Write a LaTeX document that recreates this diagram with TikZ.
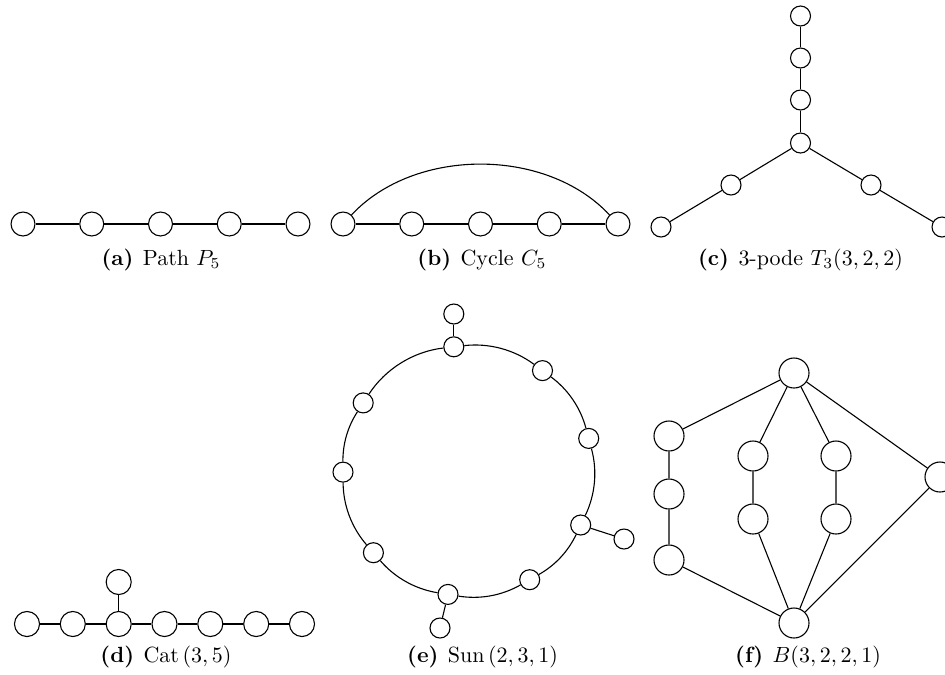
\documentclass[tikz,border=0pt]{standalone}
\usetikzlibrary{calc}
\begin{document}
\begin{tikzpicture}[x=0.455pt,y=-0.455pt,line width=0.5pt,
  vbase/.style={circle,draw,fill=white,inner sep=0pt},
  vs/.style={vbase,minimum size=9.1pt},
  vm/.style={vbase,minimum size=10.9pt},
  vc/.style={vbase,minimum size=11.4pt},
  vl/.style={vbase,minimum size=13.65pt},
  captext/.style={anchor=base,inner sep=0pt},
  ring/.style={looseness=0.88}]
\useasboundingbox (0,0) rectangle (945,674);
% (a) Path P5
\foreach \i/\x in {1/23,2/91.75,3/160.5,4/229.25,5/298}
  \node[vm] (a\i) at (\x,224) {};
\draw (a1)--(a2)--(a3)--(a4)--(a5);
\node[captext] (capa) at (161,265) {\textbf{(a)}\hspace{4.3pt}Path $P_5$};
% (b) Cycle C5
\foreach \i/\x in {1/343,2/411.75,3/480.5,4/549.25,5/618}
  \node[vm] (b\i) at (\x,224) {};
\draw (b1)--(b2)--(b3)--(b4)--(b5);
\draw (b1) to[out=47,in=133,looseness=0.92] (b5);
\node[captext] (capb) at (482,265) {\textbf{(b)}\hspace{4.3pt}Cycle $C_5$};
% (c) 3-pode
\node[vs] (c0) at (800.5,143) {};
\node[vs] (cu1) at (800.5,100) {};
\node[vs] (cu2) at (800.5,58) {};
\node[vs] (cu3) at (800.5,16) {};
\node[vs] (cl1) at (731,185) {};
\node[vs] (cl2) at (661,227) {};
\node[vs] (cr1) at (871,185) {};
\node[vs] (cr2) at (942,227) {};
\draw (c0)--(cu1)--(cu2)--(cu3);
\draw (c0)--(cl1)--(cl2);
\draw (c0)--(cr1)--(cr2);
\node[captext] (capc) at (800.5,265) {\textbf{(c)}\hspace{4.3pt}3-pode $T_3(3,2,2)$};
% (d) Cat
\foreach \i/\x in {1/27,2/72.8,3/118.7,4/164.5,5/210.3,6/256.2,7/302}
  \node[vc] (d\i) at (\x,624) {};
\node[vc] (dt) at (118.7,582) {};
\draw (d1)--(d2)--(d3)--(d4)--(d5)--(d6)--(d7);
\draw (d3)--(dt);
\node[captext] (capd) at (166,662) {\textbf{(d)}\hspace{4.3pt}Cat\,$(3,5)$};
% (e) Sun
\node[vs] (s1) at (453.8,346.8) {};
\node[vs] (s2) at (542.5,370.6) {};
\node[vs] (s3) at (588.7,438.4) {};
\node[vs] (s4) at (580.7,525.0) {};
\node[vs] (s5) at (529.7,579.7) {};
\node[vs] (s6) at (448.0,594.4) {};
\node[vs] (s7) at (373.4,552.7) {};
\node[vs] (s8) at (343.0,472.1) {};
\node[vs] (s9) at (363.2,402.9) {};
\node[vs] (p1) at (453.8,314) {};
\node[vs] (p4) at (624,539) {};
\node[vs] (p6) at (440,628) {};
\draw (s1) to[ring,bend left=21.5] (s2);
\draw (s2) to[ring,bend left=19.2] (s3);
\draw (s3) to[ring,bend left=20.4] (s4);
\draw (s4) to[ring,bend left=17.4] (s5);
\draw (s5) to[ring,bend left=19.4] (s6);
\draw (s6) to[ring,bend left=20] (s7);
\draw (s7) to[ring,bend left=20.2] (s8);
\draw (s8) to[ring,bend left=16.8] (s9);
\draw (s9) to[ring,bend left=25.2] (s1);
\draw (s1)--(p1);
\draw (s4)--(p4);
\draw (s6)--(p6);
\node[captext] (cape) at (482.5,662) {\textbf{(e)}\hspace{4.3pt}Sun\,$(2,3,1)$};
% (f) B(3,2,2,1)
\node[vl] (ft) at (794,373) {};
\node[vl] (fb) at (794,623) {};
\node[vl] (fl1) at (669,436) {};
\node[vl] (fl2) at (669,494) {};
\node[vl] (fl3) at (669,560) {};
\node[vl] (fm1) at (753,456) {};
\node[vl] (fm2) at (753,519) {};
\node[vl] (fn1) at (836,456) {};
\node[vl] (fn2) at (836,519) {};
\node[vl] (fr) at (940,477) {};
\draw (ft)--(fl1)--(fl2)--(fl3)--(fb);
\draw (ft)--(fm1)--(fm2)--(fb);
\draw (ft)--(fn1)--(fn2)--(fb);
\draw (ft)--(fr)--(fb);
\node[captext] (capf) at (808,662) {\textbf{(f)}\hspace{4.3pt}$B(3,2,2,1)$};
\end{tikzpicture}
\end{document}
